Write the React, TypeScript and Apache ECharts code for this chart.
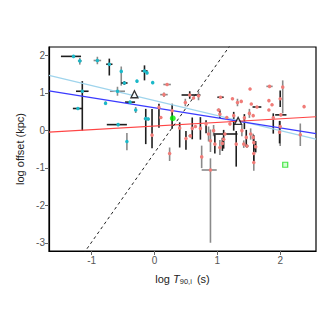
import React, { useEffect, useRef } from "react";
import * as echarts from "echarts";

// [x, y, xErrMinus, xErrPlus, yErrMinus, yErrPlus]
type Pt = [number, number, number, number, number, number];

const cyanBlackBars: Pt[] = [
  [-1.29, 1.97, 0.2, 0.12, 0, 0],
  [-0.72, 1.76, 0.05, 0.05, 0.3, 0.15],
  [-0.48, 1.26, 0.05, 0.05, 0.05, 0.05],
  [-0.16, 1.58, 0.05, 0.05, 0.25, 0.15],
  [-1.15, 1.04, 0.1, 0.1, 1.05, 0.27],
  [-1.22, 0.58, 0.08, 0.08, 0, 0],
  [-0.39, 0.75, 0.08, 0.08, 0, 0],
  [-0.14, 0.31, 0.03, 0.03, 0.68, 0.26],
  [-0.58, 0.15, 0.18, 0.14, 0, 0],
];
const cyanGreyBars: Pt[] = [
  [-1.19, 1.85, 0.03, 0.03, 0.1, 0.08],
  [-0.91, 1.86, 0.06, 0.06, 0.1, 0.1],
  [-0.53, 1.57, 0, 0, 0.38, 0.13],
  [-0.28, 1.31, 0, 0, 0, 0],
  [-0.12, 1.53, 0, 0, 0, 0],
  [-0.03, 1.27, 0, 0, 0, 0],
  [-0.59, 1.04, 0.12, 0.12, 0.12, 0.12],
  [-0.78, 0.72, 0, 0, 0.05, 0.05],
  [-0.3, 0.54, 0, 0, 0.08, 0.08],
  [-0.1, 0.3, 0, 0, 0.04, 0.04],
  [-0.44, -0.3, 0, 0, 0.23, 0.23],
];

const redBlackBars: Pt[] = [
  [0.07, 0.61, 0, 0, 0.54, 0.1],
  [-0.04, -0.13, 0, 0, 0.35, 0.7],
  [0.28, 0.52, 0, 0, 0.48, 0.19],
  [0.4, 0.06, 0, 0, 0.52, 0.15],
  [0.5, -0.22, 0, 0, 0.3, 0.2],
  [0.6, 0.05, 0, 0, 0.29, 0.29],
  [0.56, 0.94, 0.13, 0.17, 0.1, 0.1],
  [1.05, 0.88, 0.05, 0.05, 0, 0],
  [1.63, 0.62, 0.07, 0.07, 0, 0],
  [2.0, 0.84, 0, 0, 0.22, 0.22],
  [2.01, 0.41, 0.09, 0.09, 0, 0],
  [1.89, 0.33, 0, 0, 0.42, 0.12],
  [1.99, -0.05, 0, 0, 0.3, 0.3],
  [1.04, 0.43, 0, 0, 0.1, 0.1],
  [1.26, 0.39, 0, 0, 0.4, 0.1],
  [1.43, 0.33, 0, 0, 0.3, 0.1],
  [0.73, 0.05, 0, 0, 0.3, 0.3],
  [0.82, 0.17, 0, 0, 0.25, 0.1],
  [0.96, -0.37, 0, 0, 0.25, 0.25],
  [1.1, -0.24, 0, 0, 0.25, 0.25],
  [1.3, -0.37, 0, 0, 0.6, 0.35],
  [1.46, -0.19, 0, 0, 0.25, 0.2],
  [1.58, -0.33, 0, 0, 0.2, 0.2],
  [1.12, -0.1, 0.18, 0.2, 0, 0],
  [1.08, -0.35, 0, 0, 0.2, 0.15],
  [1.61, -0.44, 0, 0, 0.15, 0.15],
  [1.58, -0.62, 0, 0, 0.2, 0.2],
];
const redGreyBars: Pt[] = [
  [0.2, 1.22, 0.06, 0.06, 0, 0],
  [0.15, 0.95, 0.06, 0.06, 0.06, 0.06],
  [0.1, 0.34, 0, 0, 0, 0],
  [0.24, -0.62, 0, 0, 0.2, 0.16],
  [0.57, -0.15, 0.03, 0.03, 0.04, 0.04],
  [0.65, 0.1, 0, 0, 0, 0],
  [0.62, 0.86, 0, 0, 0, 0],
  [0.7, 0.92, 0, 0, 0.12, 0.12],
  [0.49, 0.74, 0, 0, 0.1, 0.1],
  [1.24, 0.84, 0, 0, 0, 0],
  [1.32, 0.74, 0, 0, 0.1, 0.1],
  [1.38, 0.77, 0, 0, 0, 0],
  [1.52, 1.1, 0, 0, 0, 0],
  [1.54, 0.7, 0, 0, 0, 0],
  [1.83, 1.17, 0.05, 0.05, 0, 0],
  [2.04, 1.15, 0, 0, 0.7, 0.18],
  [1.82, 0.79, 0, 0, 0, 0],
  [1.87, 0.68, 0, 0, 0, 0],
  [1.82, 0.54, 0, 0, 0, 0],
  [2.38, 0.63, 0, 0, 0, 0],
  [2.0, 0.1, 0, 0, 0.52, 0.15],
  [2.32, -0.12, 0, 0, 0.3, 0.3],
  [1.02, 0.54, 0.03, 0.03, 0.04, 0.04],
  [1.15, 0.34, 0, 0, 0, 0],
  [1.51, 0.45, 0, 0, 0.12, 0.12],
  [1.57, 0.39, 0, 0, 0, 0],
  [0.94, -0.01, 0, 0, 0.15, 0.15],
  [0.86, -0.1, 0, 0, 0.2, 0.2],
  [0.89, -0.28, 0, 0, 0.3, 0.3],
  [1.04, -0.46, 0, 0, 0.2, 0.2],
  [1.39, -0.01, 0, 0, 0.15, 0.15],
  [1.53, -0.1, 0, 0, 0.15, 0.15],
  [1.2, 0.17, 0, 0, 0, 0],
  [0.75, -0.71, 0, 0, 0.3, 0.3],
  [0.89, -1.06, 0.14, 0.1, 1.94, 0.31],
  [1.47, -0.42, 0.03, 0.03, 0.05, 0.05],
  [1.58, -0.86, 0, 0, 0.22, 0.22],
  [1.57, -0.19, 0, 0, 0.1, 0.1],
  [1.42, -0.37, 0, 0, 0.1, 0.1],
];

const triangles: [number, number][] = [
  [-0.32, 0.96],
  [1.33, 0.25],
];
const greenDot: [number, number][] = [[0.29, 0.32]];
const greenSquare: [number, number][] = [[2.08, -0.92]];

// fits: [intercept, slope]
const lightBlueFit: [number, number] = [0.79, -0.4];
const blueFit: [number, number] = [0.6, -0.268];
const redFit: [number, number] = [0.112, 0.0965];
const dashedLine: [number, number] = [-0.6, 2.38];

const xMin = -1.68;
const xMax = 2.57;
const yMin = -3.22;
const yMax = 2.22;
const xTicks = [-1, 0, 1, 2];
const yTicks = [-3, -2, -1, 0, 1, 2];

const fitData = (f: [number, number]) => [
  [xMin, f[0] + f[1] * xMin],
  [xMax, f[0] + f[1] * xMax],
];

const errorSeries = (data: Pt[], color: string) => ({
  type: "custom",
  clip: true,
  silent: true,
  z: 2,
  data,
  renderItem: (params: any, api: any) => {
    const x = api.value(0);
    const y = api.value(1);
    const xl = api.value(2);
    const xh = api.value(3);
    const yl = api.value(4);
    const yh = api.value(5);
    const children: any[] = [];
    const st = { stroke: color, lineWidth: 1.6 };
    if (xl > 0 || xh > 0) {
      const a = api.coord([x - xl, y]);
      const b = api.coord([x + xh, y]);
      children.push({ type: "line", shape: { x1: a[0], y1: a[1], x2: b[0], y2: b[1] }, style: st });
    }
    if (yl > 0 || yh > 0) {
      const a = api.coord([x, y - yl]);
      const b = api.coord([x, y + yh]);
      children.push({ type: "line", shape: { x1: a[0], y1: a[1], x2: b[0], y2: b[1] }, style: st });
    }
    return { type: "group", children };
  },
});

const lineSeries = (f: [number, number], color: string, dashed = false, w = 1.2) => ({
  type: "line",
  data: fitData(f),
  symbol: "none",
  silent: true,
  z: 3,
  lineStyle: { color, width: w, type: dashed ? [3, 3] : "solid" },
});

const pointSeries = (data: Pt[], color: string) => ({
  type: "scatter",
  data: data.map((p) => [p[0], p[1]]),
  symbol: "circle",
  symbolSize: 3.5,
  z: 4,
  itemStyle: { color, opacity: 1 },
});

export default function App() {
  const ref = useRef<HTMLDivElement>(null);
  useEffect(() => {
    if (!ref.current) return;
    const chart = echarts.init(ref.current, null, { renderer: "svg" });
    const axisLabel = { color: "#555", fontSize: 10, fontFamily: "Liberation Sans" };
    chart.setOption({
      animation: false,
      backgroundColor: "#fff",
      grid: {
        left: 49,
        right: 16,
        top: 47,
        bottom: 78,
        show: true,
        borderColor: "#000",
        borderWidth: 1.2,
      },
      xAxis: {
        type: "value",
        min: xMin,
        max: xMax,
        splitLine: { show: false },
        axisLine: { onZero: false, lineStyle: { color: "#000", width: 1.2 } },
        axisTick: { length: 4, lineStyle: { color: "#666" }, customValues: xTicks },
        axisLabel: { ...axisLabel, margin: 4, customValues: xTicks },
        name: "log {it|T}{sub|90,i} (s)",
        nameLocation: "middle",
        nameGap: 21,
        nameTextStyle: {
          color: "#222",
          fontSize: 11,
          fontFamily: "Liberation Sans",
          rich: {
            it: { fontStyle: "italic", fontSize: 11, fontFamily: "Liberation Sans", color: "#222" },
            sub: { fontSize: 7.5, fontFamily: "Liberation Sans", color: "#222", verticalAlign: "bottom", padding: [5, 2, 0, 0] },
          },
        },
      },
      yAxis: {
        type: "value",
        min: yMin,
        max: yMax,
        splitLine: { show: false },
        axisLine: { onZero: false, lineStyle: { color: "#000", width: 1.2 } },
        axisTick: { length: 4, lineStyle: { color: "#666" }, customValues: yTicks },
        axisLabel: { ...axisLabel, margin: 4, customValues: yTicks },
        name: "log offset (kpc)",
        nameLocation: "middle",
        nameGap: 22,
        nameTextStyle: { color: "#222", fontSize: 11, fontFamily: "Liberation Sans" },
      },
      series: [
        errorSeries(cyanGreyBars, "#8a8a8a"),
        errorSeries(redGreyBars, "#8a8a8a"),
        errorSeries(cyanBlackBars, "#1e1e1e"),
        errorSeries(redBlackBars, "#1e1e1e"),
        lineSeries(lightBlueFit, "#9fd4ec"),
        lineSeries(blueFit, "#3a3aff"),
        lineSeries(redFit, "#ff4545"),
        lineSeries(dashedLine, "#222", true, 1),
        pointSeries(cyanBlackBars, "#1ab8c8"),
        pointSeries(cyanGreyBars, "#1ab8c8"),
        pointSeries(redBlackBars, "#f07c78"),
        pointSeries(redGreyBars, "#f07c78"),
        {
          type: "scatter",
          data: triangles,
          symbol: "triangle",
          symbolSize: 7,
          z: 5,
          itemStyle: { color: "#fff", borderColor: "#000", borderWidth: 1.3 },
        },
        {
          type: "scatter",
          data: greenDot,
          symbol: "circle",
          symbolSize: 6,
          z: 5,
          itemStyle: { color: "#00ee00" },
        },
        {
          type: "scatter",
          data: greenSquare,
          symbol: "rect",
          symbolSize: 5,
          z: 5,
          itemStyle: { color: "#c8ffc8", borderColor: "#22dd22", borderWidth: 1.2 },
        },
      ],
    });
    return () => chart.dispose();
  }, []);
  return (
    <div
      ref={ref}
      style={{ position: "fixed", left: 0, top: 0, width: 332, height: 329 }}
    />
  );
}
